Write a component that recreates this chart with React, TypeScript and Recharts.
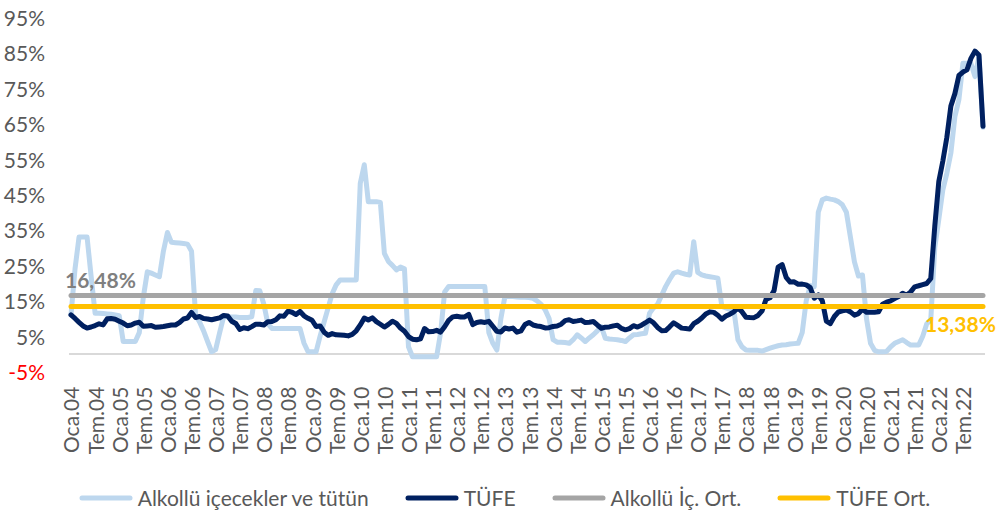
import React from 'react';
import { LineChart, Line, XAxis, YAxis, ReferenceLine, Legend, LabelList } from 'recharts';

const FONT = 'Lato, "Open Sans", sans-serif';
const TEXT_COLOR = '#595959';

const monthNames = ['Oca', 'Şub', 'Mar', 'Nis', 'May', 'Haz', 'Tem', 'Ağu', 'Eyl', 'Eki', 'Kas', 'Ara'];
const years = ['04', '05', '06', '07', '08', '09', '10', '11', '12', '13', '14', '15', '16', '17', '18', '19', '20', '21', '22'];
const categories = years.flatMap((y) => monthNames.map((m) => `${m}.${y}`));
const tickLabels = years.flatMap((y) => [`Oca.${y}`, `Tem.${y}`]);

const yTicks = [-5, 5, 15, 25, 35, 45, 55, 65, 75, 85, 95];

const seriesNames = ['Alkollü içecekler ve tütün', 'TÜFE', 'Alkollü İç. Ort.', 'TÜFE Ort.'];

// Alkollü içecekler ve tütün (yıllık %)
const alkolluSeries = [
  // 2004
  11, 24, 33, 33, 33, 22, 11.5, 11.5, 11.4, 11.3, 11.2, 11.0,
  // 2005
  10.8, 3.5, 3.5, 3.5, 3.5, 6, 16, 23.2, 22.8, 22.3, 21.8, 29,
  // 2006
  34.3, 31.5, 31.4, 31.3, 31.2, 31.0, 29, 11, 9, 6.5, 3.5, 0.6,
  // 2007
  1.2, 6, 10.5, 10.5, 10.4, 10.4, 10.3, 10.3, 10.3, 10.5, 17.9, 17.8,
  // 2008
  14, 8.5, 7.2, 7.2, 7.2, 7.2, 7.2, 7.2, 7.2, 7.2, 3, 0.6,
  // 2009
  0.6, 0.6, 5, 9, 13, 17, 19.5, 20.9, 20.9, 20.9, 20.9, 20.9,
  // 2010
  48.2, 53.4, 43, 43, 43, 42.8, 28.4, 26.1, 25, 23.7, 24.5, 24,
  // 2011
  2, -0.8, -0.8, -0.8, -0.8, -0.8, -0.8, -0.8, 6, 17.5, 19, 19,
  // 2012
  19, 19, 19, 19, 19, 19, 19, 19, 6, 3, 1.1, 10,
  // 2013
  16.2, 16.2, 16.2, 16.1, 16.0, 16.0, 15.9, 15.7, 15.0, 14, 12.5, 10,
  // 2014
  4, 3.3, 3.3, 3.2, 3.0, 4, 5.4, 4.5, 3.5, 4.5, 5.4, 6.5,
  // 2015
  7.7, 4.4, 4.2, 4.1, 4.0, 3.8, 3.5, 4.5, 5.4, 5.5, 5.7, 5.8,
  // 2016
  11.5, 13, 14, 16.5, 19, 21, 22.8, 23.2, 22.8, 22.5, 22.3, 31.7,
  // 2017
  23, 22.3, 22, 21.8, 21.6, 21.4, 13.4, 13, 12.6, 12.2, 4, 2,
  // 2018
  1.1, 1, 1, 1, 0.8, 1.2, 1.6, 2.0, 2.3, 2.5, 2.6, 2.8,
  // 2019
  2.9, 3.0, 6, 15, 19.3, 19, 40, 43.5, 44, 43.7, 43.5, 43,
  // 2020
  42.1, 40, 33, 26, 22, 22.3, 10, 3, 1, 0.6, 0.6, 0.7,
  // 2021
  2, 3, 3.5, 4, 3.2, 2.5, 2.5, 2.5, 5, 8.5, 9.6, 30,
  // 2022
  38, 46.3, 51, 56.7, 67, 71.8, 82.1, 82.1, 82, 78.3, 84, 64,
];

// TÜFE (yıllık %)
const tufeSeries = [
  // 2004
  11.0, 10.0, 8.9, 7.9, 7.3, 7.6, 8.0, 8.5, 8.2, 9.9, 10.0, 9.8,
  // 2005
  9.24, 8.69, 7.94, 8.18, 8.70, 8.95, 7.82, 7.91, 7.99, 7.52, 7.61, 7.72,
  // 2006
  7.93, 8.15, 8.16, 8.83, 9.86, 10.12, 11.69, 10.26, 10.55, 9.98, 9.86, 9.65,
  // 2007
  9.93, 10.16, 10.86, 10.72, 9.23, 8.60, 6.90, 7.39, 7.12, 7.70, 8.40, 8.39,
  // 2008
  8.17, 9.10, 9.15, 9.66, 10.74, 10.61, 12.06, 11.77, 11.13, 11.99, 10.76, 10.06,
  // 2009
  9.50, 7.73, 7.89, 6.13, 5.24, 5.73, 5.39, 5.33, 5.27, 5.08, 5.53, 6.53,
  // 2010
  8.19, 10.13, 9.56, 10.19, 9.10, 8.37, 7.58, 8.33, 9.24, 8.62, 7.29, 6.40,
  // 2011
  4.90, 4.16, 3.99, 4.26, 7.17, 6.24, 6.31, 6.65, 6.15, 7.66, 9.48, 10.45,
  // 2012
  10.61, 10.43, 10.43, 11.14, 8.28, 8.87, 9.07, 8.88, 9.19, 7.80, 6.37, 6.16,
  // 2013
  7.31, 7.03, 7.29, 6.13, 6.51, 8.30, 8.88, 8.17, 7.88, 7.71, 7.32, 7.40,
  // 2014
  7.75, 7.89, 8.39, 9.38, 9.66, 9.16, 9.32, 9.54, 8.86, 8.96, 9.15, 8.17,
  // 2015
  7.24, 7.55, 7.61, 7.91, 8.09, 7.20, 6.81, 7.14, 7.95, 7.58, 8.10, 8.81,
  // 2016
  9.58, 8.78, 7.46, 6.57, 6.58, 7.64, 8.79, 8.05, 7.28, 7.16, 7.00, 8.53,
  // 2017
  9.22, 10.13, 11.29, 11.87, 11.72, 10.90, 9.79, 10.68, 11.20, 11.90, 12.98, 11.92,
  // 2018
  10.35, 10.26, 10.23, 10.85, 12.15, 15.39, 15.85, 17.90, 24.52, 25.24, 21.62, 20.30,
  // 2019
  20.35, 19.67, 19.71, 19.50, 18.71, 15.72, 16.65, 15.01, 9.26, 8.55, 10.56, 11.84,
  // 2020
  12.15, 12.37, 11.86, 10.94, 11.39, 12.62, 11.76, 11.77, 11.75, 11.89, 14.03, 14.60,
  // 2021
  14.97, 15.61, 16.19, 17.14, 16.59, 17.53, 18.95, 19.25, 19.58, 19.89, 21.31, 36.08,
  // 2022
  48.69, 54.44, 61.14, 69.97, 73.50, 78.62, 79.60, 80.21, 83.45, 85.51, 84.39, 64.27,
];

const alkolluAvg = 16.48;
const tufeAvg = 13.38;

const data = categories.map((month, i) => ({
  month,
  alkollu: alkolluSeries[i],
  tufe: tufeSeries[i],
  alkolluOrt: alkolluAvg,
  tufeOrt: tufeAvg,
}));

const YTick = (props: any) => {
  const { x, y, payload } = props;
  const v = payload.value as number;
  return (
    <text
      x={x}
      y={y}
      textAnchor="end"
      dominantBaseline="central"
      fontFamily={FONT}
      fontSize={21}
      fill={v < 0 ? '#FF0000' : TEXT_COLOR}
    >
      {`${v}%`}
    </text>
  );
};

const XTick = (props: any) => {
  const { x, y, payload } = props;
  return (
    <text
      x={x}
      y={y}
      transform={`rotate(-90 ${x} ${y})`}
      textAnchor="end"
      dominantBaseline="central"
      fontFamily={FONT}
      fontSize={21}
      fill={TEXT_COLOR}
    >
      {payload.value}
    </text>
  );
};

const fmt = (v: number) => `${v.toFixed(2).replace('.', ',')}%`;

const GrayLabel = (props: any) => {
  const { x, y, index, value } = props;
  if (index !== 0) return null;
  return (
    <text x={x - 6} y={y - 16} dominantBaseline="central" textAnchor="start" fontFamily={FONT} fontSize={21} fontWeight={700} fill="#7F7F7F">
      {fmt(value)}
    </text>
  );
};

const YellowLabel = (props: any) => {
  const { x, y, index, value } = props;
  if (index !== data.length - 1) return null;
  return (
    <text x={x - 58} y={y + 17} dominantBaseline="central" textAnchor="start" fontFamily={FONT} fontSize={21} fontWeight={700} fill="#FFC000">
      {fmt(value)}
    </text>
  );
};

const LegendContent = (props: any) => {
  const payload = [...(props.payload || [])].sort(
    (a: any, b: any) => seriesNames.indexOf(a.value) - seriesNames.indexOf(b.value)
  );
  return (
    <div
      style={{
        display: 'flex',
        justifyContent: 'center',
        alignItems: 'center',
        gap: 36,
        fontFamily: FONT,
        fontSize: 21,
        color: TEXT_COLOR,
        height: 24,
        lineHeight: '24px',
        whiteSpace: 'nowrap',
      }}
    >
      {payload.map((entry: any) => (
        <div key={entry.value} style={{ display: 'flex', alignItems: 'center' }}>
          <svg width={54} height={8} style={{ display: 'block' }}>
            <line x1={3} y1={4} x2={51} y2={4} stroke={entry.color} strokeWidth={5} strokeLinecap="round" />
          </svg>
          <span style={{ marginLeft: 5 }}>{entry.value}</span>
        </div>
      ))}
    </div>
  );
};

export default function App() {
  return (
    <div style={{ position: 'absolute', left: 0, top: 0, width: 999, height: 513, background: '#ffffff', fontFamily: FONT }}>
      <LineChart width={999} height={513} data={data} margin={{ top: 17.5, right: 14, bottom: 0, left: 0 }}>
        <XAxis
          dataKey="month"
          type="category"
          ticks={tickLabels}
          interval={0}
          padding={{ left: 2, right: 2 }}
          axisLine={false}
          tickLine={false}
          tickSize={0}
          tickMargin={15}
          height={141.4}
          tick={<XTick />}
        />
        <YAxis
          type="number"
          domain={[-5, 95]}
          ticks={yTicks}
          interval={0}
          width={69}
          axisLine={false}
          tickLine={false}
          tickSize={0}
          tickMargin={24}
          tick={<YTick />}
        />
        <ReferenceLine y={0} stroke="#D9D9D9" strokeWidth={2} />
        <Line
          name={seriesNames[0]}
          dataKey="alkollu"
          type="linear"
          stroke="#BDD7EE"
          strokeWidth={5}
          strokeLinejoin="round"
          strokeLinecap="round"
          dot={false}
          activeDot={false}
          isAnimationActive={false}
        />
        <Line
          name={seriesNames[1]}
          dataKey="tufe"
          type="linear"
          stroke="#002060"
          strokeWidth={5}
          strokeLinejoin="round"
          strokeLinecap="round"
          dot={false}
          activeDot={false}
          isAnimationActive={false}
        />
        <Line
          name={seriesNames[2]}
          dataKey="alkolluOrt"
          type="linear"
          stroke="#A5A5A5"
          strokeWidth={5}
          strokeLinecap="round"
          dot={false}
          activeDot={false}
          isAnimationActive={false}
        >
          <LabelList dataKey="alkolluOrt" content={<GrayLabel />} />
        </Line>
        <Line
          name={seriesNames[3]}
          dataKey="tufeOrt"
          type="linear"
          stroke="#FFC000"
          strokeWidth={5}
          strokeLinecap="round"
          dot={false}
          activeDot={false}
          isAnimationActive={false}
        >
          <LabelList dataKey="tufeOrt" content={<YellowLabel />} />
        </Line>
        <Legend
          layout="vertical"
          align="center"
          verticalAlign="middle"
          wrapperStyle={{ left: 5, top: 486, width: 999, height: 24 }}
          content={<LegendContent />}
        />
      </LineChart>
    </div>
  );
}
